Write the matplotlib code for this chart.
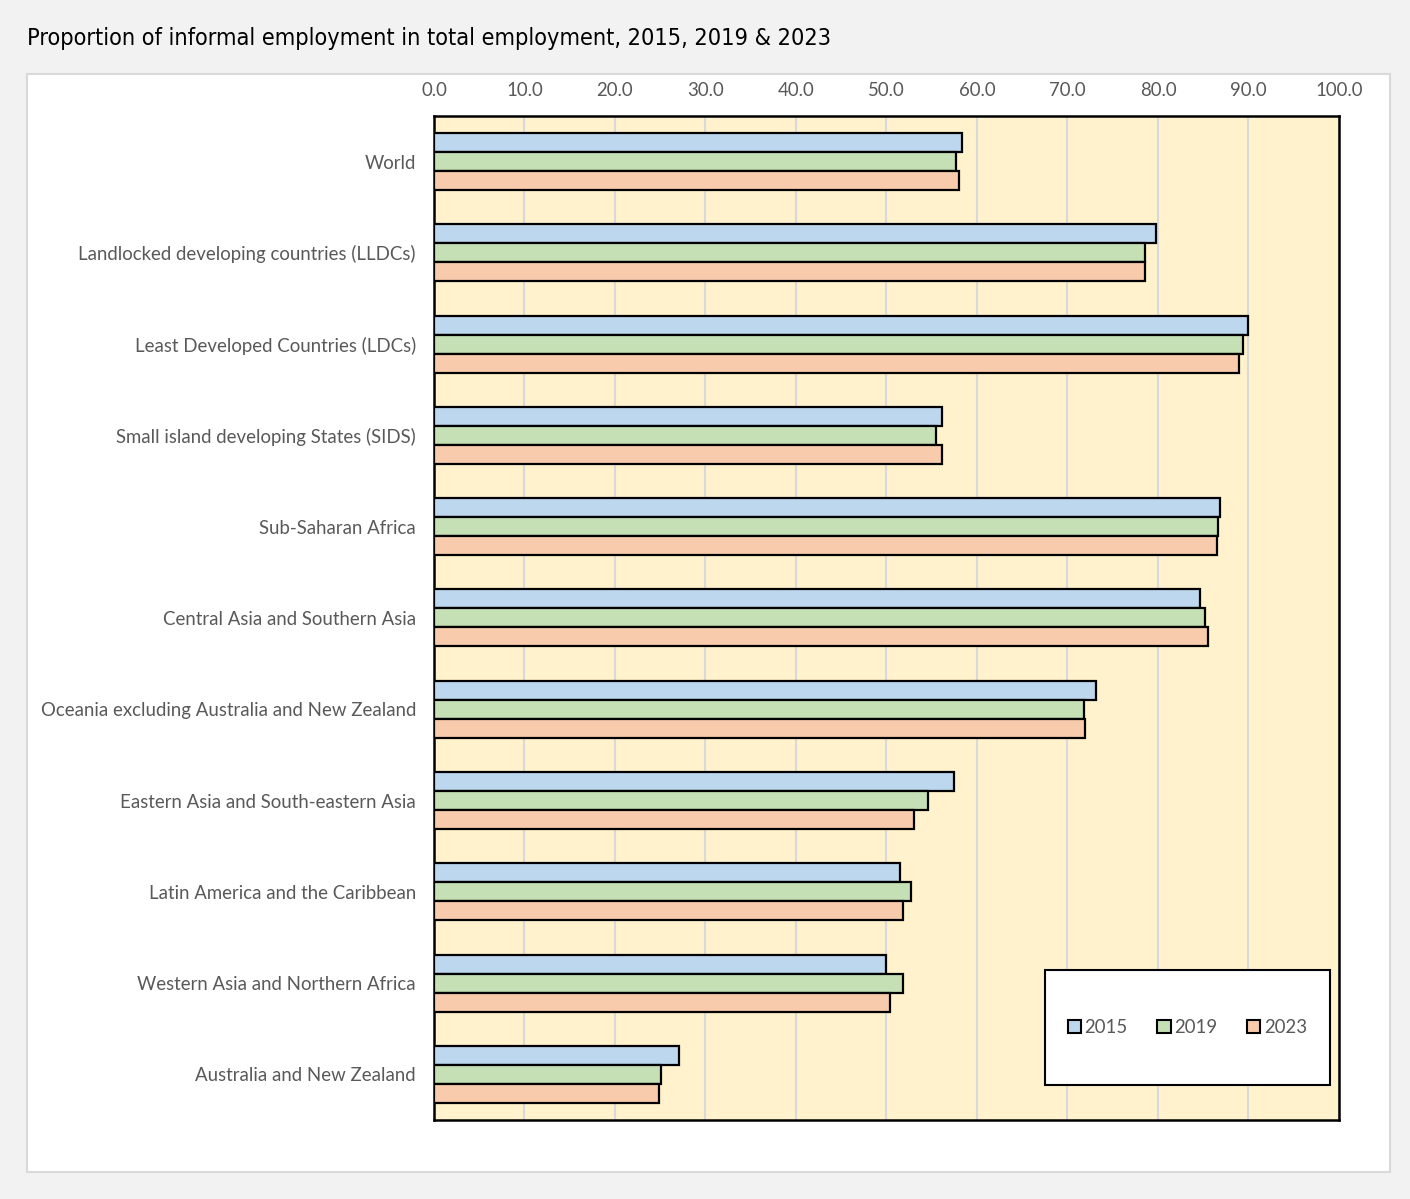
import matplotlib.pyplot as plt
import matplotlib.patches as mpatches
import numpy as np

regions = ['World',
           'Landlocked developing countries (LLDCs)',
           'Least Developed Countries (LDCs)',
           'Small island developing States (SIDS)',
           'Sub-Saharan Africa',
           'Central Asia and Southern Asia',
           'Oceania excluding Australia and New Zealand',
           'Eastern Asia and South-eastern Asia',
           'Latin America and the Caribbean',
           'Western Asia and Northern Africa',
           'Australia and New Zealand']

v2015 = [58.3, 79.8, 90.0, 56.1, 86.9, 84.7, 73.2, 57.5, 51.5, 50.0, 27.1]
v2019 = [57.7, 78.6, 89.4, 55.5, 86.6, 85.2, 71.8, 54.6, 52.7, 51.8, 25.1]
v2023 = [58.0, 78.6, 89.0, 56.1, 86.5, 85.5, 71.9, 53.0, 51.8, 50.4, 24.9]

years = ['2015', '2019', '2023']
colors = ['#bdd7ee', '#c5e0b4', '#f8cbad']
grey = '#595959'
label_font = ['Lato', 'DejaVu Sans']
fsize = 13.4

fig = plt.figure(figsize=(14.1, 11.99), dpi=100, facecolor='#f2f2f2')

# white chart panel
panel = mpatches.Rectangle((0.0192, 0.0225), 0.9667, 0.9158, transform=fig.transFigure,
                           facecolor='white', edgecolor='#d9d9d9', linewidth=1.5, zorder=0)
fig.patches.append(panel)

fig.text(0.0192, 0.968, 'Proportion of informal employment in total employment, 2015, 2019 & 2023',
         family='DejaVu Sans', stretch='condensed', fontsize=16.8, color='black',
         ha='left', va='center')

ax = fig.add_axes([0.3078, 0.0659, 0.6418, 0.8374])
ax.set_zorder(2)
ax.set_facecolor('#fff2cc')

y = np.arange(len(regions))
h = 0.208
for i, (vals, c) in enumerate(zip([v2015, v2019, v2023], colors)):
    ax.barh(y + (i - 1) * h, vals, height=h, color=c, edgecolor='black',
            linewidth=1.6, label=years[i], zorder=3)

ax.set_xlim(0, 100)
ax.set_ylim(len(regions) - 0.5, -0.5)
ax.set_xticks(np.arange(0, 101, 10))
ax.set_xticklabels(['%.1f' % t for t in np.arange(0, 101, 10)])
ax.xaxis.tick_top()
ax.set_yticks(y)
ax.set_yticklabels(regions)
ax.tick_params(axis='both', length=0, colors=grey, labelsize=fsize)
ax.tick_params(axis='x', pad=12)
ax.tick_params(axis='y', pad=13)
for lab in ax.get_xticklabels() + ax.get_yticklabels():
    lab.set_family(label_font)
ax.grid(axis='x', color='#d9d9d9', linewidth=1.5, zorder=0)
ax.set_axisbelow(True)
for s in ax.spines.values():
    s.set_color('black')
    s.set_linewidth(1.8)

# legend box
box = mpatches.Rectangle((0.675, 0.0349), 0.315, 0.1145, transform=ax.transAxes,
                         facecolor='white', edgecolor='black', linewidth=1.5, zorder=5)
ax.add_patch(box)
handles = [mpatches.Patch(facecolor=c, edgecolor='black', linewidth=1.5) for c in colors]
leg = ax.legend(handles, years, loc='center', bbox_to_anchor=(0.8325, 0.092), ncol=3,
                frameon=False, handlelength=0.7, handleheight=0.7, handletextpad=0.2,
                columnspacing=1.6, prop={'family': label_font, 'size': fsize})
leg.set_zorder(6)
for t in leg.get_texts():
    t.set_color(grey)

fig.savefig('out.png', dpi=100, facecolor=fig.get_facecolor())
